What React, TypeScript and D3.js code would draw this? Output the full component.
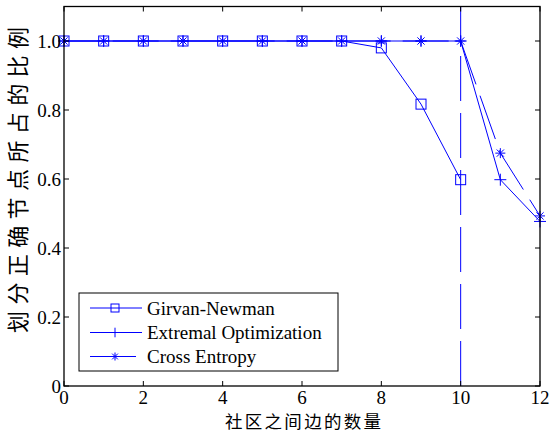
import React from "react";
import * as d3 from "d3";

const xValues = [0, 1, 2, 3, 4, 5, 6, 7, 8, 9, 10, 11, 12];
const gnValues = [1, 1, 1, 1, 1, 1, 1, 1, 0.98, 0.817, 0.598];
const eoValues = [1, 1, 1, 1, 1, 1, 1, 1, 1, 1, 1, 0.598, 0.477];
const ceValues = [1, 1, 1, 1, 1, 1, 1, 1, 1, 1, 1, 0.675, 0.493];
const xTicks = [0, 2, 4, 6, 8, 10, 12];
const yTicks = [0, 0.2, 0.4, 0.6, 0.8, 1.0];
const yTickLabels = ["0", "0.2", "0.4", "0.6", "0.8", "1.0"];
const seriesNames = ["Girvan-Newman", "Extremal Optimization", "Cross Entropy"];
const vlineX = 10;
const xLabel = "社区之间边的数量";
const yLabel = "划分正确节点所占的比例";

const W = 551;
const H = 433;
const L = 64, R = 540, T = 6.5, B = 386;
const BLUE = "#0000ff";
const SERIF = "'Liberation Serif', 'Times New Roman', serif";
const CJK = "'Noto Sans CJK SC', sans-serif";

function Marker({ type, x, y, s = 1 }: { type: string; x: number; y: number; s?: number }) {
  if (type === "square") {
    const h = 5 * s;
    return <rect x={x - h} y={y - h} width={2 * h} height={2 * h} fill="none" stroke={BLUE} strokeWidth={1} />;
  }
  if (type === "plus") {
    const h = 6 * s;
    return (
      <path d={`M${x - h},${y}H${x + h}M${x},${y - h}V${y + h}`} stroke={BLUE} strokeWidth={1} fill="none" />
    );
  }
  const h = 5 * s;
  const k = h * 0.72;
  return (
    <path
      d={`M${x - h},${y}H${x + h}M${x},${y - h}V${y + h}M${x - k},${y - k}L${x + k},${y + k}M${x - k},${y + k}L${x + k},${y - k}`}
      stroke={BLUE}
      strokeWidth={1}
      fill="none"
    />
  );
}

export default function App() {
  const xs = d3.scaleLinear().domain([0, 12]).range([L, R]);
  const ys = d3.scaleLinear().domain([0, 1.1]).range([B, T]);
  const line = d3
    .line<number>()
    .x((_, i) => xs(xValues[i]))
    .y((d) => ys(d));

  const series = [
    { name: seriesNames[0], vals: gnValues, marker: "square", dash: undefined as string | undefined },
    { name: seriesNames[1], vals: eoValues, marker: "plus", dash: undefined },
    { name: seriesNames[2], vals: ceValues, marker: "star", dash: "46,12" },
  ];
  const period = 58;
  const L10 = xs(10) - xs(0);
  const ceOffset = period - (L10 % period);

  const legX = 79, legY = 293, legW = 259, legH = 78;
  const rowY = [308, 332.5, 356.5];

  return (
    <svg
      width={W}
      height={H}
      style={{ position: "absolute", left: 0, top: 0, background: "#fff" }}
      xmlns="http://www.w3.org/2000/svg"
    >
      <rect x={0} y={0} width={W} height={H} fill="#fff" />
      <g>
        {series.map((s, si) => (
          <path
            key={si}
            d={line(s.vals) || ""}
            fill="none"
            stroke={BLUE}
            strokeWidth={1}
            strokeDasharray={s.dash}
            strokeDashoffset={s.dash ? ceOffset : undefined}
          />
        ))}
        {series.map((s, si) =>
          s.vals.map((v, i) => <Marker key={`${si}-${i}`} type={s.marker} x={xs(xValues[i])} y={ys(v)} />)
        )}
        <path
          d={`M${xs(vlineX)},${ys(0)}V${ys(1.1)}`}
          stroke={BLUE}
          strokeWidth={1}
          strokeDasharray="45,12"
          fill="none"
        />
      </g>
      <rect x={L} y={T} width={R - L} height={B - T} fill="none" stroke="#000" strokeWidth={1.3} />
      {xTicks.map((t) => (
        <g key={`xt${t}`}>
          <line x1={xs(t)} x2={xs(t)} y1={B} y2={B - 5} stroke="#000" strokeWidth={1} />
          <line x1={xs(t)} x2={xs(t)} y1={T} y2={T + 5} stroke="#000" strokeWidth={1} />
          <text x={xs(t)} y={403.5} textAnchor="middle" fontFamily={SERIF} fontSize={19} fill="#000">
            {t}
          </text>
        </g>
      ))}
      {yTicks.map((t, i) => (
        <g key={`yt${t}`}>
          <line x1={L} x2={L + 5} y1={ys(t)} y2={ys(t)} stroke="#000" strokeWidth={1} />
          <line x1={R} x2={R - 5} y1={ys(t)} y2={ys(t)} stroke="#000" strokeWidth={1} />
          <text x={61} y={ys(t) + 6.5} textAnchor="end" fontFamily={SERIF} fontSize={19} fill="#000">
            {yTickLabels[i]}
          </text>
        </g>
      ))}
      <text
        x={303}
        y={427.8}
        textAnchor="middle"
        fontFamily={CJK}
        fontSize={17.5}
        fill="#000"
        textLength={156}
        lengthAdjust="spacing"
      >
        {xLabel}
      </text>
      <text
        transform={`translate(26,${180}) rotate(-90)`}
        textAnchor="middle"
        fontFamily={CJK}
        fontSize={22}
        fill="#000"
        textLength={306}
        lengthAdjust="spacing"
      >
        {yLabel}
      </text>
      <rect x={legX} y={legY} width={legW} height={legH} fill="#fff" stroke="#000" strokeWidth={1} />
      {series.map((s, i) => (
        <g key={`lg${i}`}>
          <path d={`M90,${rowY[i]}H142`} stroke={BLUE} strokeWidth={1} strokeDasharray={s.dash} fill="none" />
          <Marker type={s.marker} x={115} y={rowY[i]} s={0.8} />
          <text x={147} y={rowY[i] + 6.5} fontFamily={SERIF} fontSize={19} fill="#000">
            {s.name}
          </text>
        </g>
      ))}
    </svg>
  );
}
